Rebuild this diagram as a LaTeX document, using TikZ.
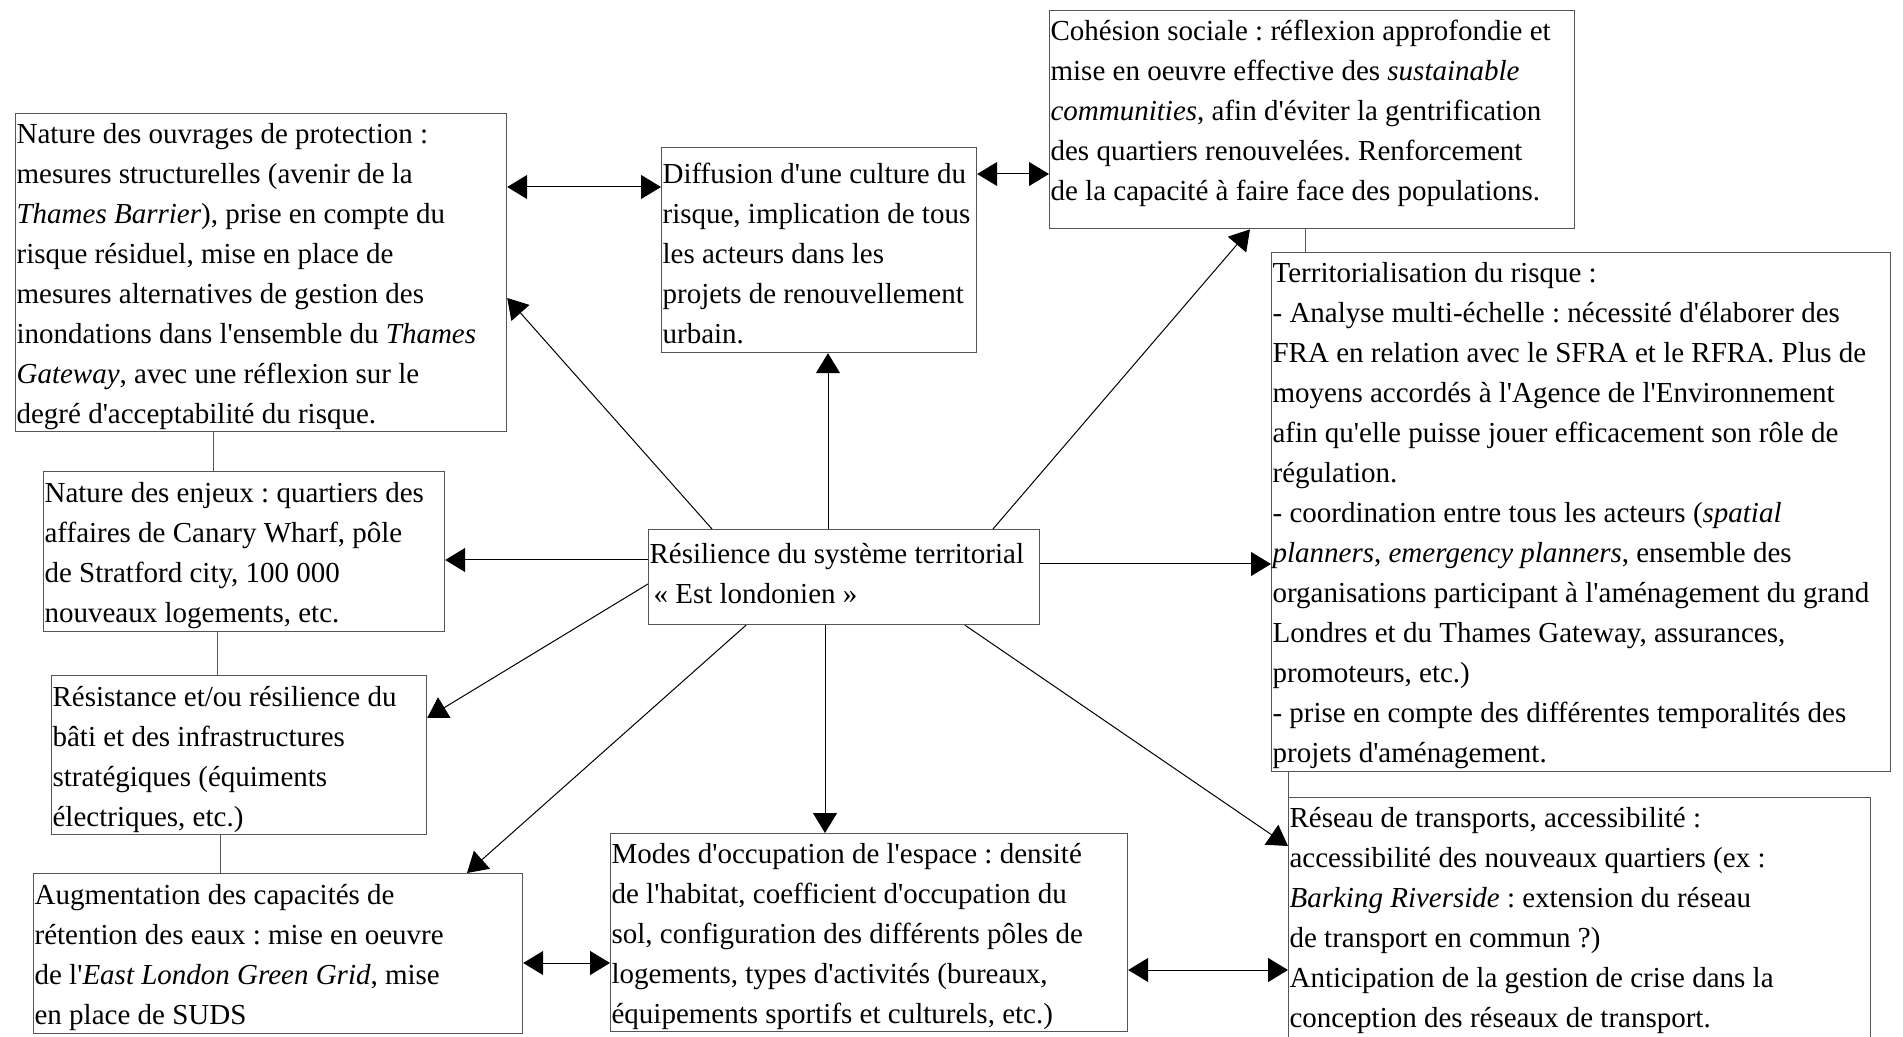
\documentclass[tikz,border=0pt]{standalone}
\usepackage{fontspec}
\setmainfont{Liberation Serif}[Ligatures=TeXOff]
\usetikzlibrary{arrows.meta,calc}
\definecolor{framegray}{HTML}{555555}

\begin{document}
\frenchspacing
\begin{tikzpicture}[
    x=0.5pt, y=-0.5pt,
    box/.style={draw=framegray, line width=0.6pt, anchor=north west, align=flush left, inner xsep=0.5pt, inner ysep=1pt,
        font=\fontsize{14.5}{20}\selectfont, execute at begin node={\rule{0pt}{14pt}}},
    arrow/.style={-{Triangle[length=10pt,width=12pt]}, line width=0.5pt},
    biarrow/.style={{Triangle[length=10pt,width=12pt]}-{Triangle[length=10pt,width=12pt]}, line width=0.5pt},
    link/.style={draw=framegray, line width=0.5pt}
]
\useasboundingbox (0,0) rectangle (1903,1037);

% Central node
\node[box, text width=194.5pt, minimum height=47.5pt] (cen) at (648,529) {Résilience du système territorial\\\hspace{2pt}« Est londonien »\par\kern7pt};

% Left column
\node[box, text width=244.5pt, minimum height=159pt] (ouvr) at (15,113) {Nature des ouvrages de protection :\\mesures structurelles (avenir de la\\\textit{Thames Barrier}), prise en compte du\\risque résiduel, mise en place de\\mesures alternatives de gestion des\\inondations dans l'ensemble du \textit{Thames}\\\textit{Gateway}, avec une réflexion sur le\\degré d'acceptabilité du risque.};
\node[box, text width=199.5pt, minimum height=80pt] (enj) at (43,471) {Nature des enjeux : quartiers des\\affaires de Canary Wharf, pôle\\de Stratford city, 100 000\\nouveaux logements, etc.};
\node[box, text width=186.5pt, minimum height=79.5pt] (res) at (51,675) {Résistance et/ou résilience du\\bâti et des infrastructures\\stratégiques (équiments\\électriques, etc.)};
\node[box, text width=243.5pt, minimum height=80pt] (aug) at (33,873) {Augmentation des capacités de\\rétention des eaux : mise en oeuvre\\de l'\textit{East London Green Grid}, mise\\en place de SUDS};

% Top row
\node[box, text width=156.5pt, minimum height=102.5pt] (diff) at (661,147) {Diffusion d'une culture du\\risque, implication de tous\\les acteurs dans les\\projets de renouvellement\\urbain.};
\node[box, text width=261.5pt, minimum height=109pt] (coh) at (1049,10) {Cohésion sociale : réflexion approfondie et\\mise en oeuvre effective des \textit{sustainable}\\\textit{communities}, afin d'éviter la gentrification\\des quartiers renouvelées. Renforcement\\de la capacité à faire face des populations.\par\kern10pt};

% Right column
\node[box, text width=308.5pt, minimum height=259.5pt] (terr) at (1271,252) {Territorialisation du risque :\\- Analyse multi-échelle : nécessité d'élaborer des\\FRA en relation avec le SFRA et le RFRA. Plus de\\moyens accordés à l'Agence de l'Environnement\\afin qu'elle puisse jouer efficacement son rôle de\\régulation.\\- coordination entre tous les acteurs (\textit{spatial}\\\textit{planners}, \textit{emergency planners}, ensemble des\\organisations participant à l'aménagement du grand\\Londres et du Thames Gateway, assurances,\\promoteurs, etc.)\\- prise en compte des différentes temporalités des\\projets d'aménagement.};
\node[box, text width=290pt] (rese) at (1288,797) {Réseau de transports, accessibilité :\\accessibilité des nouveaux quartiers (ex :\\\textit{Barking Riverside} : extension du réseau\\de transport en commun ?)\\Anticipation de la gestion de crise dans la\\conception des réseaux de transport.\par\kern8pt};

% Bottom middle
\node[box, text width=257.5pt, minimum height=98.5pt] (modes) at (610,833) {Modes d'occupation de l'espace : densité\\de l'habitat, coefficient d'occupation du\\sol, configuration des différents pôles de\\logements, types d'activités (bureaux,\\équipements sportifs et culturels, etc.)};

% Plain links between stacked boxes
\draw[link] ($(ouvr.south west)+(198,0)$) -- ($(enj.north west)+(170,0)$);
\draw[link] ($(enj.south west)+(174,0)$) -- ($(res.north west)+(166,0)$);
\draw[link] ($(res.south west)+(169,0)$) -- ($(aug.north west)+(187,0)$);
\draw[link] ($(coh.south west)+(256,0)$) -- ($(terr.north west)+(34,0)$);
\draw[link] ($(terr.south west)+(17,0)$) -- (rese.north west);

% Arrows from the central node
\draw[arrow] ($(cen.north west)+(64,0)$) -- ($(ouvr.north east)+(0,185)$);
\draw[arrow] ($(cen.north west)+(180,0)$) -- ($(diff.south west)+(167,0)$);
\draw[arrow] ($(cen.north west)+(345,0)$) -- ($(coh.south west)+(201,0)$);
\draw[arrow] ($(cen.north east)+(0,35)$) -- ($(terr.north west)+(0,312)$);
\draw[arrow] ($(cen.north west)+(0,31)$) -- ($(enj.north east)+(0,89)$);
\draw[arrow] ($(cen.north west)+(0,55)$) -- ($(res.north east)+(0,43)$);
\draw[arrow] ($(cen.south west)+(98,0)$) -- ($(aug.north west)+(434,0)$);
\draw[arrow] ($(cen.south west)+(177,0)$) -- ($(modes.north west)+(215,0)$);
\draw[arrow] ($(cen.south west)+(317,0)$) -- ($(rese.north west)+(0,49)$);

% Two-way arrows between neighbours
\draw[biarrow] ($(ouvr.north east)+(0,74)$) -- ($(diff.north west)+(0,40)$);
\draw[biarrow] ($(diff.north east)+(0,27)$) -- ($(coh.north west)+(0,164)$);
\draw[biarrow] ($(aug.north east)+(0,90)$) -- ($(modes.north west)+(0,130)$);
\draw[biarrow] ($(modes.north east)+(0,137)$) -- ($(rese.north west)+(0,173)$);

\end{tikzpicture}
\end{document}
